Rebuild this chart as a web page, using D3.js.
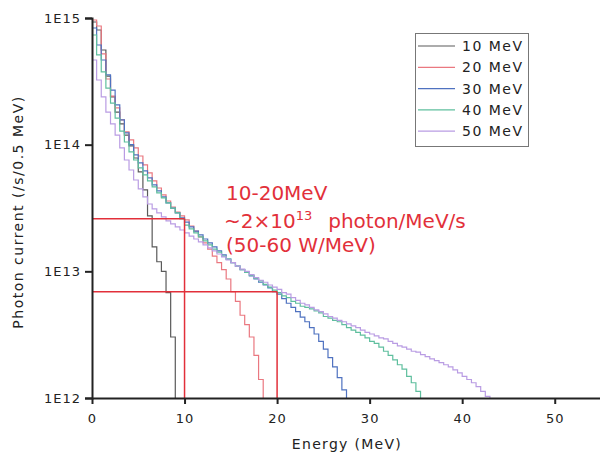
<!DOCTYPE html>
<html>
<head>
<meta charset="utf-8">
<script src="https://cdn.jsdelivr.net/npm/d3@7"></script>
<style>
  body { margin: 0; background: #fff; }
  text { font-family: "DejaVu Sans", sans-serif; }
</style>
</head>
<body>
<svg id="chart" width="600" height="453"></svg>
<script>
// photon spectra per 0.5 MeV bin, values in units of 1e12 /s
const binWidth = 0.5;
const beams = ["10 MeV", "20 MeV", "30 MeV", "40 MeV", "50 MeV"];
const beamColors = ["#5a5a5a", "#ea7880", "#4f72c0", "#5fbf9e", "#b99ce3"];

const flux10 = [930, 804, 559, 348, 238, 181, 146, 119, 97.7, 78.5, 60.9, 43.9, 27.4, 15.6, 11.9, 10.0, 6.8, 3.03];
const flux20 = [964, 865, 520, 330, 242, 195, 157, 126, 109, 94.2, 81.4, 69.2, 59.8, 51.7, 45.5, 40.1, 35.9, 32.2, 29.4, 27.4,
  25.5, 22.8, 20.8, 18.7, 16.8, 15.0, 13.2, 11.7, 10.3, 8.7, 6.9, 5.8, 4.5, 3.8, 3.03, 2.17, 1.4];
const flux30 = [834, 612, 466, 355, 270, 206, 157, 124, 100, 83.0, 71.7, 62.0, 54.6, 48.1, 43.1, 38.7, 34.7, 31.6, 28.9, 26.4,
  24.5, 22.4, 20.8, 19.4, 18.0, 16.8, 15.6, 14.5, 13.5, 12.5, 11.7, 11.0, 10.3, 9.8, 9.2, 8.7, 8.2, 7.8, 7.4, 6.9,
  6.6, 6.1, 5.6, 5.2, 4.8, 4.35, 4.0, 3.6, 3.2, 2.8, 2.43, 2.08, 1.76, 1.45, 1.16];
const flux40 = [734, 511, 375, 280, 213, 162, 128, 105, 87.6, 75.7, 65.5, 57.7, 51.7, 46.4, 41.6, 38.0, 34.7, 31.6, 28.9, 25.9,
  23.2, 21.6, 20.1, 18.7, 17.4, 16.2, 15.0, 14.2, 13.2, 12.5, 11.7, 11.0, 10.3, 9.8, 9.3, 8.8, 8.4, 7.9, 7.5, 7.1,
  6.8, 6.4, 6.2, 5.8, 5.6, 5.3, 5.2, 5.05, 4.87, 4.7, 4.4, 4.27, 4.1, 4.0, 3.8, 3.6, 3.44, 3.3, 3.14, 2.98,
  2.8, 2.7, 2.52, 2.34, 2.17, 2.0, 1.83, 1.69, 1.48, 1.32, 1.13];
const flux50 = [466, 324, 238, 181, 146, 119, 94.2, 75.7, 63.1, 52.6, 44.7, 38.7, 34.0, 31.1, 28.9, 26.9, 25.0, 23.7, 22.4, 21.2,
  20.1, 19.0, 18.0, 17.1, 16.2, 15.3, 14.5, 13.7, 13.0, 12.3, 11.7, 11.0, 10.4, 10.0, 9.43, 8.93, 8.5, 8.2, 7.8, 7.5,
  7.2, 6.8, 6.6, 6.2, 5.9, 5.6, 5.43, 5.2, 4.96, 4.8, 4.61, 4.4, 4.27, 4.1, 4.0, 3.85, 3.71, 3.6, 3.44, 3.3,
  3.2, 3.09, 2.98, 2.93, 2.8, 2.7, 2.58, 2.52, 2.43, 2.34, 2.3, 2.2, 2.12, 2.04, 1.97, 1.9, 1.83, 1.76, 1.67, 1.58,
  1.48, 1.4, 1.32, 1.23, 1.13, 1.03];
const fluxes = [flux10, flux20, flux30, flux40, flux50];

// guide lines (energy, photon current)
const guideE = [10, 20];
const guideV = [2.6e13, 6.9e12];

const xTicks = [0, 10, 20, 30, 40, 50];
const xMinor = [5, 15, 25, 35, 45, 55];
const yDecades = [1e12, 1e13, 1e14, 1e15];

const svg = d3.select("#chart");
const m = { left: 92, right: 601, top: 18, bottom: 398 };

const x = d3.scaleLinear().domain([0, 55]).range([m.left, m.right]);
const y = d3.scaleLog().domain([1e12, 1e15]).range([m.bottom, m.top]);

// histograms
const line = d3.line()
  .x(d => x(d[0]))
  .y(d => y(d[1]))
  .curve(d3.curveStepAfter);

fluxes.forEach(function(vals, i) {
  let pts = vals.map((v, k) => [k * binWidth, v * 1e12]);
  let end = vals.length * binWidth;
  pts.push([end, vals[vals.length - 1] * 1e12]);
  pts.push([end, 1e12]);
  svg.append("path")
    .attr("d", line(pts))
    .attr("fill", "none")
    .attr("stroke", beamColors[i])
    .attr("stroke-width", 1.2);
});

// red guide lines
const red = "#e2303a";
guideE.forEach(function(e, i) {
  svg.append("line")
    .attr("x1", x(0)).attr("x2", x(e))
    .attr("y1", y(guideV[i])).attr("y2", y(guideV[i]))
    .attr("stroke", red).attr("stroke-width", 1.5);
  svg.append("line")
    .attr("x1", x(e)).attr("x2", x(e))
    .attr("y1", y(guideV[i])).attr("y2", y(1e12))
    .attr("stroke", red).attr("stroke-width", 1.5);
});

// axes
let yMinor = [];
yDecades.slice(0, 3).forEach(d => { for (let k = 2; k < 10; k++) yMinor.push(d * k); });

const gy = svg.append("g").attr("transform", `translate(${m.left},0)`);
gy.call(d3.axisLeft(y).tickValues(yMinor).tickSize(4).tickFormat(""));
gy.call(d3.axisLeft(y).tickValues(yDecades).tickSize(7).tickPadding(4)
  .tickFormat(d => "1E" + Math.round(Math.log10(d))));

const gx = svg.append("g").attr("transform", `translate(0,${m.bottom})`);
gx.call(d3.axisBottom(x).tickValues(xMinor).tickSize(4).tickFormat(""));
gx.call(d3.axisBottom(x).tickValues(xTicks).tickSize(6).tickPadding(10).tickSizeOuter(0));

svg.selectAll(".domain").attr("stroke", "#222").attr("stroke-width", 2);
svg.selectAll(".tick line").attr("stroke", "#222").attr("stroke-width", 2);
svg.selectAll(".tick text")
  .attr("font-family", "DejaVu Sans")
  .attr("font-size", 13)
  .attr("letter-spacing", 1)
  .attr("fill", "#222");

// axis titles
svg.append("text")
  .attr("x", 347).attr("y", 449)
  .attr("text-anchor", "middle")
  .attr("font-size", 14).attr("letter-spacing", 1.3)
  .attr("fill", "#222")
  .text("Energy (MeV)");

svg.append("text")
  .attr("transform", "translate(23,212) rotate(-90)")
  .attr("text-anchor", "middle")
  .attr("font-size", 14).attr("letter-spacing", 1.5)
  .attr("fill", "#222")
  .text("Photon current (/s/0.5 MeV)");

// legend
const lg = svg.append("g");
lg.append("rect")
  .attr("x", 415.5).attr("y", 33.5).attr("width", 113).attr("height", 113)
  .attr("fill", "#fff").attr("stroke", "#777").attr("stroke-width", 1);
beams.forEach(function(name, i) {
  let ry = 46 + i * 21.3;
  lg.append("line")
    .attr("x1", 418).attr("x2", 455).attr("y1", ry).attr("y2", ry)
    .attr("stroke", beamColors[i]).attr("stroke-width", 1.2);
  lg.append("text")
    .attr("x", 462).attr("y", ry + 5)
    .attr("font-size", 14).attr("letter-spacing", 1.5)
    .attr("fill", "#222")
    .text(name);
});

// annotation
const note = svg.append("g").attr("fill", red);
note.append("text").attr("x", 226).attr("y", 200).attr("font-size", 20).text("10-20MeV");
const t2 = note.append("text").attr("x", 224).attr("y", 228).attr("font-size", 20);
t2.append("tspan").text("~2\u00d710");
t2.append("tspan").attr("font-size", 13).attr("dy", -8).text("13");
t2.append("tspan").attr("dy", 8).attr("dx", 16).text("photon/MeV/s");
note.append("text").attr("x", 226).attr("y", 252).attr("font-size", 20).text("(50-60 W/MeV)");
</script>
</body>
</html>
